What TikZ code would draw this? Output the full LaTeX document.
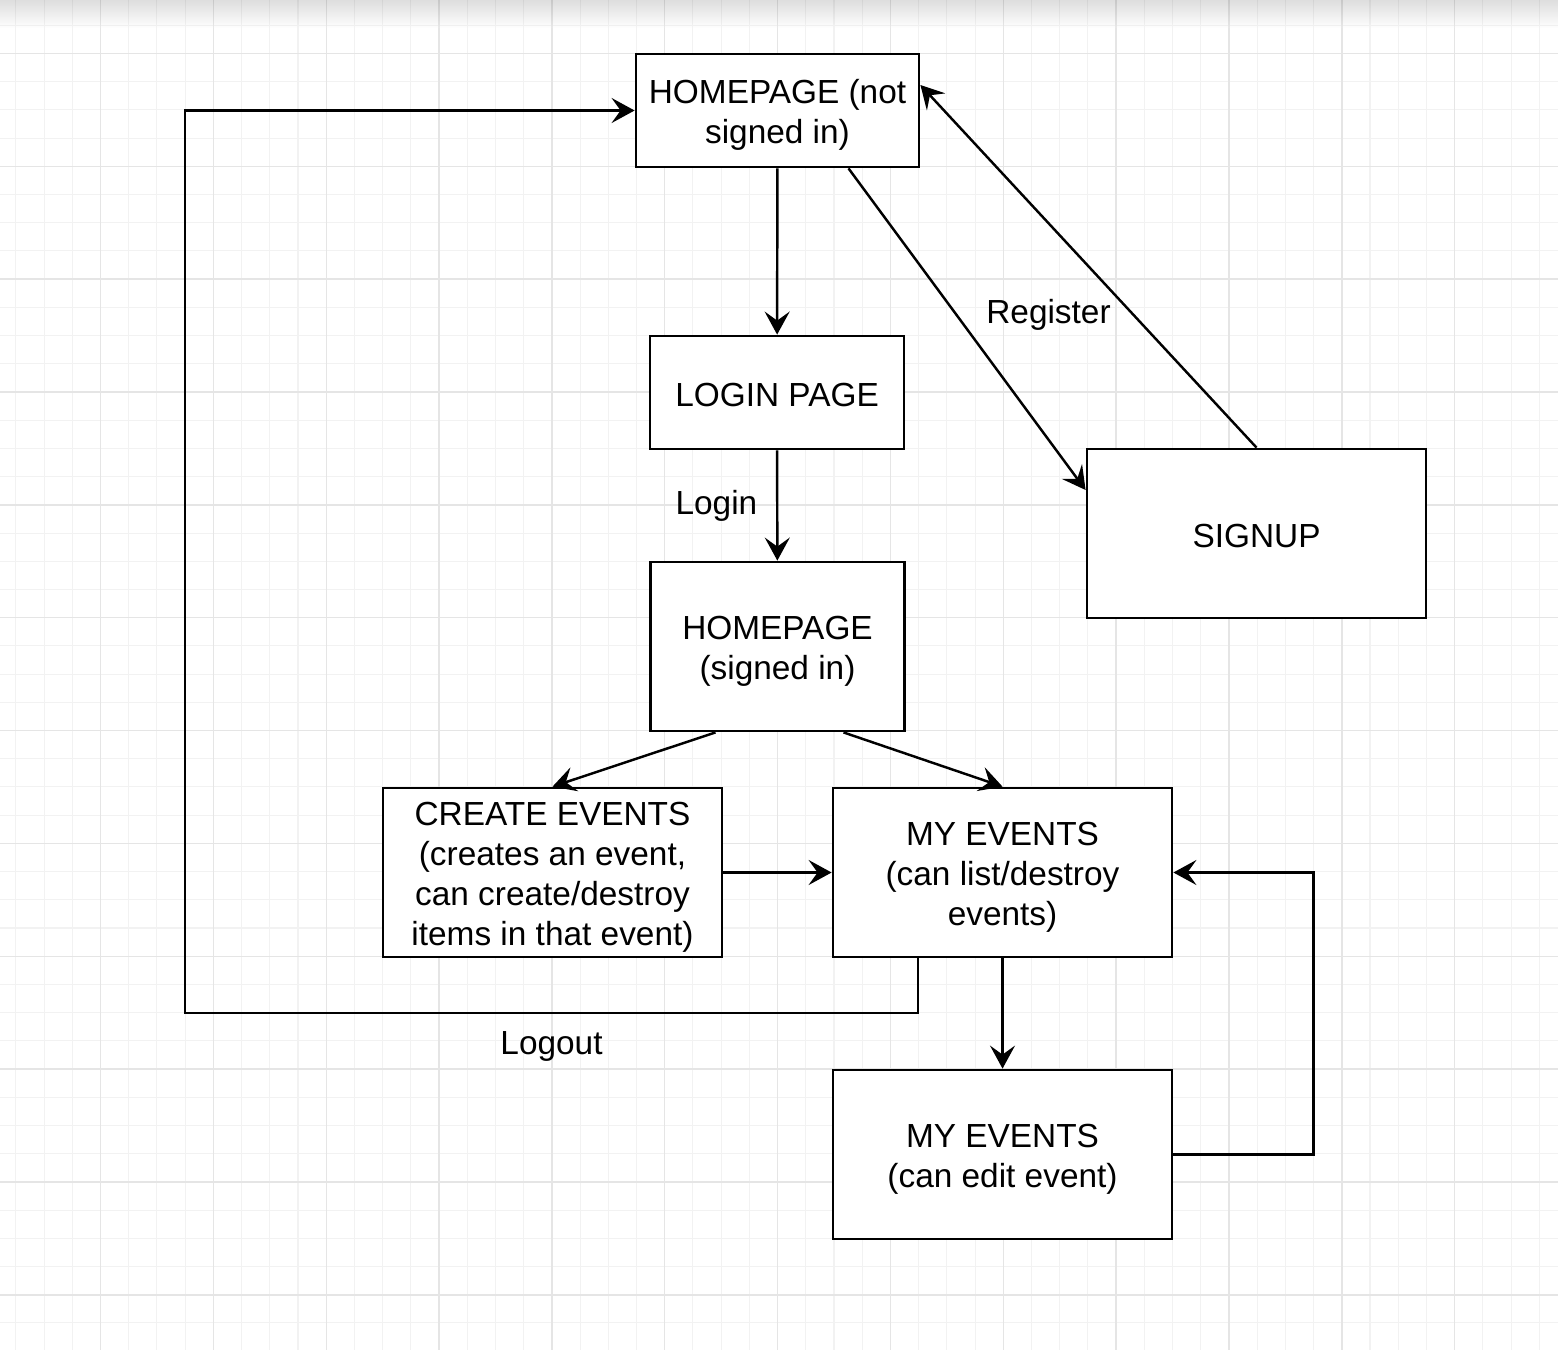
\documentclass[tikz,border=0pt]{standalone}
\usepackage{fontspec}
\setmainfont{Liberation Sans}
\usetikzlibrary{arrows.meta}
\newcommand{\tallline}{\rule{0pt}{3.3mm}}
\begin{document}
\begin{tikzpicture}[x=0.1mm,y=-0.1mm,
    font=\fontsize{9.5}{11.3}\selectfont,
    box/.style={draw,line width=0.8pt,fill=white,align=center,inner sep=0pt,
      execute at begin node={\rule{0pt}{2.8mm}}},
    arr/.style={-{Stealth[length=2.3mm,width=2.5mm,inset=0.9mm]},line width=0.7pt},
    gridminor/.style={draw=black!5,line width=0.3pt},
    gridmajor/.style={draw=black!10,line width=0.4pt}]
    \useasboundingbox (0,0) rectangle (1558,1350);
    %% background grid
    \begin{scope}
      \clip (0,0) rectangle (1558,1350);
      \fill[white] (0,0) rectangle (1558,1350);
      \foreach \i in {0,...,55} {
        \draw[gridminor] ({100.5+28.21*(\i-3)},0) -- ++(0,1350);
        \draw[gridminor] (0,{53.5+28.21*(\i-1)}) -- ++(1558,0);
      }
      \foreach \i in {0,...,13} {
        \draw[gridmajor] ({100.5+112.85*\i},0) -- ++(0,1350);
        \draw[gridmajor] (0,{53.5+112.85*\i}) -- ++(1558,0);
      }
      \shade[top color=black,bottom color=white,opacity=0.13] (0,0) rectangle (1558,28);
    \end{scope}

    %% pages
    \node[box,minimum width=28.3mm,minimum height=11.3mm] (home) at (777.5,110.5) {\tallline HOMEPAGE (not\\signed in)};
    \node[box,minimum width=25.4mm,minimum height=11.3mm] (login) at (777,392.5) {LOGIN PAGE};
    \node[box,minimum width=25.4mm,minimum height=16.9mm] (hsign) at (777.5,646.5) {\tallline HOMEPAGE\\(signed in)};
    \node[box,minimum width=33.9mm,minimum height=16.9mm] (signup) at (1256.5,533.5) {SIGNUP};
    \node[box,minimum width=33.9mm,minimum height=16.9mm] (create) at (552.5,872.5) {\tallline CREATE EVENTS\\(creates an event,\\can create/destroy\\items in that event)};
    \node[box,minimum width=33.9mm,minimum height=16.9mm] (myev) at (1002.5,872.5) {\tallline MY EVENTS\\(can list/destroy\\events)};
    \node[box,minimum width=33.9mm,minimum height=16.9mm] (edit) at (1002.5,1154.5) {\tallline MY EVENTS\\(can edit event)};

    %% links
    \coordinate (lbend) at (185,1013);
    \draw[arr] (home) -- (login);
    \draw[arr] (login) -- node[midway,left=0.7mm] (loginlbl) {Login} (hsign);
    \draw[arr] ([xshift=7.1mm]home.south) -- node[pos=0.455,right=1.7mm] (reglbl) {Register} ([yshift=4.35mm]signup.west);
    \draw[arr] (signup.north) -- ([yshift=2.55mm]home.east);
    \draw[arr] ([xshift=-6.2mm]hsign.south) -- (create.north);
    \draw[arr] ([xshift=6.6mm]hsign.south) -- (myev.north);
    \draw[arr] (create) -- (myev);
    \draw[arr] (myev) -- (edit);
    \draw[arr] (edit.east) -- ++(140,0) |- (myev.east);
    \draw[arr] ([xshift=-8.45mm]myev.south) |- node[pos=0.75,yshift=-3.3mm] (logoutlbl) {Logout} (lbend) |- (home.west);
\end{tikzpicture}
\end{document}
